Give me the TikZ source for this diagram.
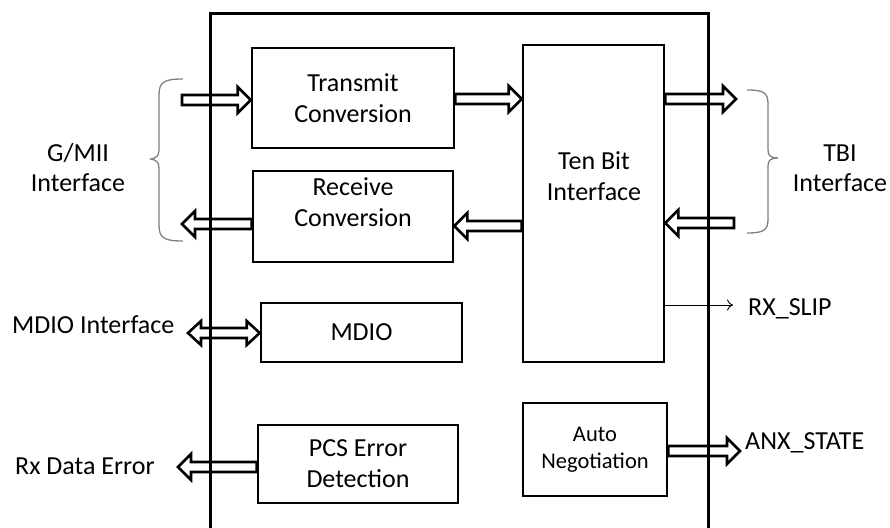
\documentclass[tikz,border=0pt]{standalone}
\usepackage{fontspec}
\setmainfont{Carlito}
\usetikzlibrary{calc,arrows.meta}
\newcommand\rarrow[2]{\draw[blk] let \p1=#1, \p2=#2 in (\x1,\y1+5pt) -- (\x2-13pt,\y1+5pt) -- (\x2-13pt,\y1+13pt) -- (\x2,\y1) -- (\x2-13pt,\y1-13pt) -- (\x2-13pt,\y1-5pt) -- (\x1,\y1-5pt) -- cycle;}
\newcommand\larrow[2]{\draw[blk] let \p1=#1, \p2=#2 in (\x1,\y1+5pt) -- (\x2+13pt,\y1+5pt) -- (\x2+13pt,\y1+13pt) -- (\x2,\y1) -- (\x2+13pt,\y1-13pt) -- (\x2+13pt,\y1-5pt) -- (\x1,\y1-5pt) -- cycle;}
\newcommand\darrow[2]{\draw[blk] let \p1=#1, \p2=#2 in (\x1,\y1) -- (\x1+13pt,\y1+12pt) -- (\x1+13pt,\y1+5pt) -- (\x2-13pt,\y1+5pt) -- (\x2-13pt,\y1+12pt) -- (\x2,\y1) -- (\x2-13pt,\y1-12pt) -- (\x2-13pt,\y1-5pt) -- (\x1+13pt,\y1-5pt) -- (\x1+13pt,\y1-12pt) -- cycle;}
\begin{document}
\begin{tikzpicture}[x=1pt,y=-1pt,
  box/.style={draw, line width=2.6pt, rectangle, inner sep=0pt, align=center, font=\fontsize{26}{31}\selectfont},
  blk/.style={draw, line width=2.6pt, line join=miter},
  lbl/.style={inner sep=0pt, align=center, font=\fontsize{26}{30}\selectfont},
  brace/.style={draw, gray, line width=1.3pt},
  thinarr/.style={draw, line width=0.9pt, -{To[length=6pt,width=11pt]}}]
\useasboundingbox (0,0) rectangle (890,527);
% boxes
\node[box, minimum width=202pt, minimum height=100pt] (tc) at (353,98) {Transmit\\Conversion};
\node[box, minimum width=200pt, minimum height=91pt] (rc) at (353,216.5) {};
\node[lbl, font=\fontsize{26}{31}\selectfont] (rct) at (353,202) {Receive\\Conversion};
\node[box, minimum width=141pt, minimum height=317pt] (tbi) at (593.5,203.5) {};
\node[lbl, font=\fontsize{26}{31}\selectfont] (tbit) at (594,176) {Ten Bit\\Interface};
\node[box, minimum width=201pt, minimum height=59pt] (mdio) at (361.5,332.5) {MDIO};
\node[box, minimum width=200pt, minimum height=78pt] (pcs) at (358,464) {PCS Error\\Detection};
\node[box, minimum width=144pt, minimum height=93pt, font=\fontsize{22.5}{27}\selectfont] (an) at (595,449.5) {Auto\\Negotiation};
\node[draw, line width=2.6pt, inner sep=0pt, minimum width=498pt, minimum height=560pt, anchor=north west] (outer) at (209,12) {};
% free ends
\coordinate (gin) at (182,100);
\coordinate (gout) at (182,224);
\coordinate (ytx) at (0,99);
\coordinate (yrx) at (0,226);
\coordinate (tbiout) at (736,99);
\coordinate (tbiin) at (734,223);
\coordinate (mdioin) at (188,333);
\coordinate (rxerr) at (178,467);
\coordinate (anx) at (740,451);
\coordinate (slip) at (733,305);
% block arrows
\rarrow{(gin)}{(gin -| tc.west)}
\larrow{(rc.west |- gout)}{(gout)}
\rarrow{(tc.east |- ytx)}{(tbi.west |- ytx)}
\larrow{(tbi.west |- yrx)}{(rc.east |- yrx)}
\rarrow{(tbi.east |- tbiout)}{(tbiout)}
\larrow{(tbiin)}{(tbi.east |- tbiin)}
\darrow{(mdioin)}{(mdioin -| mdio.west)}
\larrow{(pcs.west |- rxerr)}{(rxerr)}
\rarrow{(an.east |- anx)}{(anx)}
\draw[thinarr] (tbi.east |- slip) -- (slip);
% braces
\draw[brace] (183,79) .. controls (164,79) and (159,82) .. (159,95) -- (159,150) .. controls (159,156) and (156,158) .. (151,159) .. controls (156,160) and (159,162) .. (159,168) -- (159,225) .. controls (159,238) and (164,241) .. (183,241);
\draw[brace] (747,90) .. controls (764,90) and (768,93) .. (768,104) -- (768,150) .. controls (768,156) and (771,158) .. (778,158) .. controls (771,158) and (768,160) .. (768,166) -- (768,219) .. controls (768,230) and (764,233) .. (747,233);
% labels
\node[lbl] (gmii) at (78,168) {G/MII\\Interface};
\node[lbl] (tbil) at (840,168) {TBI\\Interface};
\node[lbl, anchor=base west] (mdiol) at (12,333) {MDIO Interface};
\node[lbl, anchor=base west] (rxl) at (15,474) {Rx Data Error};
\node[lbl, anchor=base west] (slipl) at (748,315) {RX\_SLIP};
\node[lbl, anchor=base west] (anxl) at (745,449) {ANX\_STATE};
\end{tikzpicture}
\end{document}
